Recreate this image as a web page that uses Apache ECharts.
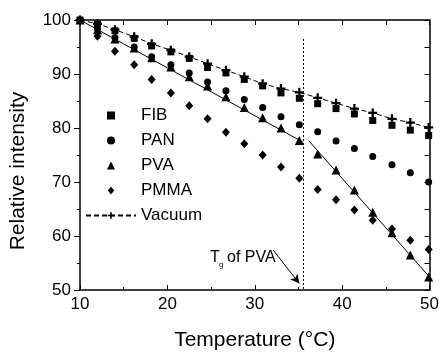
<!DOCTYPE html>
<html>
<head>
<meta charset="utf-8">
<script src="https://cdn.jsdelivr.net/npm/echarts@6/dist/echarts.min.js"></script>
<style>
    html, body { margin: 0; padding: 0; background: #fff; }
    #chart { width: 442px; height: 356px; }
</style>
</head>
<body>
<div id="chart"></div>
<script>
// 温度 (°C)
var temps = [10, 12.0, 14.0, 16.2, 18.2, 20.4, 22.5, 24.6, 26.7, 28.8, 30.9, 33.0, 35.1, 37.2, 39.3, 41.4, 43.5, 45.7, 47.8, 49.9];

// 相对强度
var fib    = [100, 99.2, 98.0, 96.6, 95.2, 94.1, 92.9, 91.2, 90.2, 89.0, 87.8, 86.5, 85.5, 84.5, 83.6, 82.6, 81.4, 80.5, 79.6, 78.6];
var pan    = [100, 98.4, 96.7, 95.0, 93.2, 91.7, 90.2, 88.5, 86.9, 85.3, 83.8, 82.1, 80.6, 79.3, 77.6, 76.2, 74.7, 73.2, 71.7, 70.0];
var pva    = [100, 98.2, 96.5, 94.8, 93.0, 91.3, 89.5, 87.8, 85.8, 83.8, 81.9, 80.0, 77.7, 75.2, 72.2, 68.5, 64.4, 60.6, 56.5, 52.4];
var pmma   = [100, 97.0, 94.2, 91.7, 89.0, 86.5, 84.1, 81.7, 79.2, 77.1, 75.0, 72.8, 70.7, 68.6, 66.7, 64.8, 62.9, 61.3, 59.2, 57.5];
var vacuum = [100, 99.3, 98.2, 96.9, 95.6, 94.4, 93.2, 91.9, 90.7, 89.5, 88.2, 87.3, 86.6, 85.6, 84.6, 83.6, 82.8, 81.7, 81.0, 80.1];

// PVA 拟合线 (Tg 前后两段)
var pvaFitLow  = [[10, 100], [35.5, 77.4]];
var pvaFitHigh = [[36.2, 77.6], [50, 52.4]];

// Tg 标注
var tgTemp = 35.5;
var tgTop = 96.5;
var arrowFrom = [32.1, 57.4];
var arrowTo = [35.1, 51.2];

var xTicks = [10, 20, 30, 40, 50];
var yTicks = [50, 60, 70, 80, 90, 100];

function pairs(ys) {
    return temps.map(function (t, i) { return [t, ys[i]]; });
}

var myChart = echarts.init(document.getElementById("chart"));
var font = "'Liberation Sans', Arial, sans-serif";
// 符号
var plus = 'path://M3,0h2v3h3v2h-3v3h-2v-3h-3v-2h3z';
var square = 'path://M0,0h10v10h-10z';
var tri = 'path://M5,0L10,10H0z';
var dia = 'path://M4,0L8,5L4,10L0,5z';

var option = {
    animation: false,
    textStyle: { fontFamily: font, color: "#000" },
    grid: { left: 80, right: 12, top: 20, bottom: 61 },
    legend: {
        orient: 'vertical',
        left: 80,
        top: 102,
        itemWidth: 50,
        itemHeight: 8,
        itemGap: 8,
        data: [
            { name: 'FIB', icon: square },
            { name: 'PAN', icon: 'circle' },
            { name: 'PVA', icon: tri },
            { name: 'PMMA', icon: dia },
            { name: 'Vacuum' }
        ],
        textStyle: { fontSize: 17, color: "#000", fontFamily: font }
    },
    xAxis: [
        {
            type: 'value',
            min: xTicks[0],
            max: xTicks[xTicks.length - 1],
            interval: 10,
            name: 'Temperature (°C)',
            nameLocation: 'middle',
            nameGap: 40,
            nameTextStyle: { fontSize: 21, color: "#000", fontFamily: font },
            axisLine: { lineStyle: { color: "#000", width: 1.5 } },
            axisTick: { inside: true, length: 5, lineStyle: { color: "#000" } },
            minorTick: { show: true, splitNumber: 2, length: 3, lineStyle: { color: "#000" } },
            axisLabel: { fontSize: 17, color: "#000", margin: 6, fontFamily: font },
            splitLine: { show: false }
        },
        {
            type: 'value',
            position: 'top',
            min: 10,
            max: 50,
            interval: 5,
            axisLine: { show: true, onZero: false, lineStyle: { color: "#000", width: 1.5 } },
            axisTick: { inside: true, length: 5, lineStyle: { color: "#000" } },
            axisLabel: { show: false },
            splitLine: { show: false }
        }
    ],
    yAxis: [
        {
            type: 'value',
            min: yTicks[0],
            max: yTicks[yTicks.length - 1],
            interval: 10,
            axisLine: { show: true, lineStyle: { color: "#000", width: 1.5 } },
            axisTick: { inside: false, length: 6, lineStyle: { color: "#000" } },
            minorTick: { show: true, splitNumber: 2, length: 3, lineStyle: { color: "#000" } },
            axisLabel: { fontSize: 17, color: "#000", margin: 9, fontFamily: font },
            splitLine: { show: false }
        },
        {
            type: 'value',
            position: 'right',
            min: 50,
            max: 100,
            interval: 5,
            axisLine: { show: true, onZero: false, lineStyle: { color: "#000", width: 1.5 } },
            axisTick: { inside: true, length: 5, lineStyle: { color: "#000" } },
            axisLabel: { show: false },
            splitLine: { show: false }
        }
    ],
    graphic: [
        // y 轴标题
        {
            type: 'text', x: 18, y: 171, rotation: Math.PI / 2,
            style: { text: 'Relative intensity', fontSize: 21, fill: "#000", fontFamily: font, align: 'center', verticalAlign: 'middle' }
        },
        { type: 'text', left: 210, top: 250, style: { text: 'T', fontSize: 16, fill: "#000", fontFamily: font } },
        { type: 'text', left: 219, top: 261, style: { text: 'g', fontSize: 8, fill: "#000", fontFamily: font } },
        { type: 'text', left: 227, top: 250, style: { text: 'of PVA', fontSize: 16, fill: "#000", fontFamily: font } }
    ],
    series: [
        {
            name: 'PVA fit low',
            type: 'line',
            data: pvaFitLow,
            symbol: 'none',
            lineStyle: { color: "#000", width: 1 },
            z: 1
        },
        {
            name: 'PVA fit high',
            type: 'line',
            data: pvaFitHigh,
            symbol: 'none',
            lineStyle: { color: "#000", width: 1 },
            z: 1,
            markLine: {
                silent: true,
                symbol: ['none', 'none'],
                label: { show: false },
                lineStyle: { color: "#000", width: 1, type: [2, 2] },
                data: [[{ coord: [tgTemp, tgTop] }, { coord: [tgTemp, 50] }]]
            }
        },
        {
            name: 'Vacuum',
            type: 'line',
            data: pairs(vacuum),
            symbol: plus,
            symbolSize: 9,
            itemStyle: { color: "#000" },
            lineStyle: { color: "#000", width: 1, type: [5, 3] },
            z: 2,
            markLine: {
                silent: true,
                symbol: ['none', 'arrow'],
                symbolSize: [7, 9],
                label: { show: false },
                lineStyle: { color: "#000", width: 1, type: 'solid' },
                data: [[{ coord: arrowFrom }, { coord: arrowTo }]]
            }
        },
        {
            name: 'FIB',
            type: 'scatter',
            data: pairs(fib),
            symbol: 'rect',
            symbolSize: 7,
            itemStyle: { color: "#000", opacity: 1 },
            z: 3
        },
        {
            name: 'PAN',
            type: 'scatter',
            data: pairs(pan),
            symbol: 'circle',
            symbolSize: 7,
            itemStyle: { color: "#000", opacity: 1 },
            z: 3
        },
        {
            name: 'PVA',
            type: 'scatter',
            data: pairs(pva),
            symbol: 'triangle',
            symbolSize: 9,
            itemStyle: { color: "#000", opacity: 1 },
            z: 3
        },
        {
            name: 'PMMA',
            type: 'scatter',
            data: pairs(pmma),
            symbol: 'diamond',
            symbolSize: [8, 9],
            itemStyle: { color: "#000", opacity: 1 },
            z: 3
        }
    ]
};

window.addEventListener("resize", function () {
    myChart.resize();
});

myChart.setOption(option);
</script>
</body>
</html>
